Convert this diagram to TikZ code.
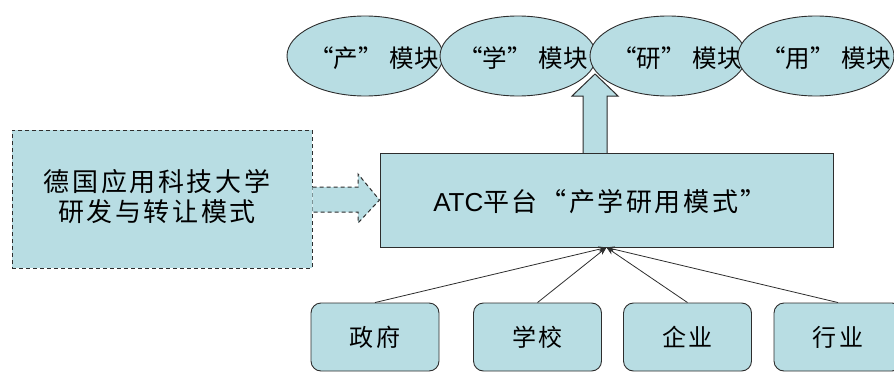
\documentclass[tikz,border=0pt]{standalone}
\usepackage{fontspec}
\setmainfont{Liberation Sans}
\newfontfamily\cjk{Noto Sans CJK SC}
\newfontfamily\cjkwide{Noto Sans CJK SC}[LetterSpace=10]
\usetikzlibrary{shapes.geometric,arrows.meta}
\definecolor{fillc}{RGB}{184,221,227}
\definecolor{linec}{RGB}{45,45,45}
\begin{document}
\begin{tikzpicture}[x=1pt,y=-1pt,
  ell/.style={ellipse,draw=linec,fill=fillc,line width=0.9pt,minimum width=156pt,minimum height=80pt,inner sep=0pt},
  elltext/.style={font=\cjk\fontsize{24.5}{26}\selectfont,inner sep=0pt},
  mainbox/.style={rectangle,draw=linec,fill=fillc,line width=1pt,minimum width=453pt,minimum height=94pt,inner sep=0pt},
  srcbox/.style={rectangle,draw=linec,fill=fillc,line width=1pt,dash pattern=on 4pt off 3pt,minimum width=300pt,minimum height=138pt,inner sep=0pt},
  actor/.style={rectangle,rounded corners=10pt,draw=linec,fill=fillc,line width=0.9pt,minimum width=128pt,minimum height=68pt,inner sep=0pt,font=\cjkwide\fontsize{24}{26}\selectfont},
  feed/.style={draw=linec,line width=0.8pt,-{Stealth[length=8pt,width=6pt]}},
  blockup/.style={draw=linec,fill=fillc,line width=1pt},
  blockdash/.style={draw=linec,fill=fillc,line width=1pt,dash pattern=on 4pt off 3pt}
]
\useasboundingbox (0,0) rectangle (894,372);

% up block arrow
\coordinate (uptip) at (595,74);
\fill[fillc] (583,154) -- (583,96) -- (572,96) -- (uptip) -- (618,96) -- (607,96) -- (607,154) -- cycle;
\draw[blockup] (583,154) -- (583,96) -- (572,96) -- (uptip) -- (618,96) -- (607,96) -- (607,154);

% ellipses with texts
\node[ell] (e1) at (365,56) {};
\node[elltext] (t1) at (374,58) {“产”\hspace{0.3em}模块};
\node[ell] (e2) at (518,56) {};
\node[elltext] (t2) at (523,58) {“学”\hspace{0.3em}模块};
\node[ell] (e3) at (668,56) {};
\node[elltext] (t3) at (677,58) {“研”\hspace{0.3em}模块};
\node[ell] (e4) at (816,56) {};
\node[elltext] (t4) at (826,58) {“用”\hspace{0.3em}模块};

% main box
\node[mainbox] (atc) at (606.5,200) {};
\node[inner sep=0pt] (atct) at (600,202) {\fontsize{26}{28}\selectfont ATC{\cjkwide\fontsize{26}{28}\selectfont 平台“产学研用模式”}};

% source box
\node[srcbox] (src) at (162,199) {};
\node[inner sep=0pt,align=center,font=\cjkwide\fontsize{26}{30}\selectfont] (srct) at (157,197) {德国应用科技大学\\研发与转让模式};

% dashed block arrow
\coordinate (dtip) at (atc.west |- 0,200);
\fill[fillc] (src.east |- 0,187) -- (358,187) -- (358,174) -- (dtip) -- (358,223) -- (358,212) -- (src.east |- 0,212) -- cycle;
\draw[blockdash] (src.east |- 0,187) -- (358,187) -- (358,174) -- (dtip) -- (358,223) -- (358,212) -- (src.east |- 0,212);

% actors
\node[actor] (a1) at (375,337) {政府};
\node[actor] (a2) at (537.5,337) {学校};
\node[actor] (a3) at (687.5,337) {企业};
\node[actor] (a4) at (838,337) {行业};

\foreach \a in {a1,a2,a3,a4} \draw[feed] (\a.north) -- (atc.south);
\end{tikzpicture}
\end{document}
